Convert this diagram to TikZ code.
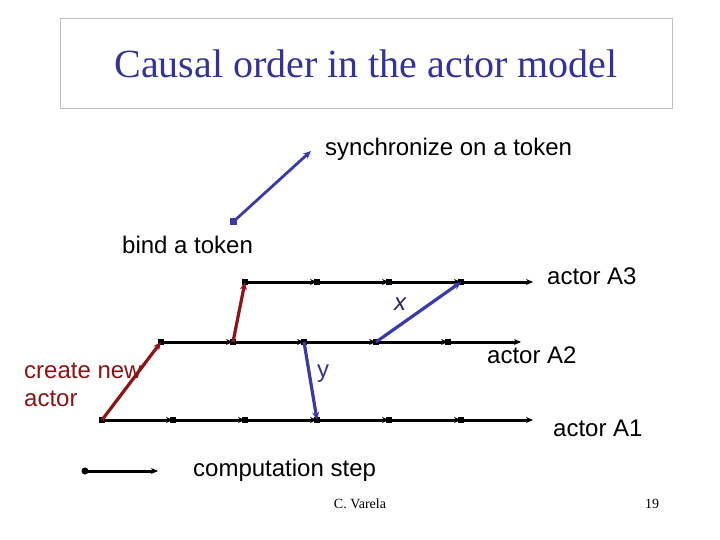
\documentclass[tikz,border=0pt]{standalone}
\usepackage{fontspec}
\setmainfont{Liberation Serif}
\setsansfont{Liberation Sans}
\usetikzlibrary{arrows.meta}
\definecolor{msgblue}{RGB}{58,58,170}
\definecolor{msgred}{RGB}{140,20,20}
\definecolor{titleblue}{RGB}{51,51,153}
\tikzset{
  stepline/.style={line width=3pt,black,-{Stealth[length=7pt,width=6pt]}},
  bluemsg/.style={line width=3.2pt,msgblue,-{Stealth[length=8pt,width=7pt]}},
  redmsg/.style={line width=3.2pt,msgred,-{Stealth[length=8pt,width=7pt]}},
  dotmark/.style={fill=black,inner sep=0pt,minimum size=6pt,rectangle},
  lbl/.style={font=\sffamily\fontsize{24}{28}\selectfont,inner sep=0pt,anchor=base west},
}
\begin{document}
\begin{tikzpicture}[x=1pt,y=-1pt]
\useasboundingbox (0,0) rectangle (720,540);
\fill[white] (0,0) rectangle (720,540);
% title
\node[draw=black!25,line width=0.8pt,minimum width=612pt,minimum height=90pt,anchor=north west,inner sep=0pt] (titlebox) at (60,18) {};
\node[font=\fontsize{40}{44}\selectfont,text=titleblue,anchor=base,inner sep=0pt] (title) at (366,78) {Causal order in the actor model};
% ticks
\foreach \n/\x in {1/245,2/317,3/389,4/461,5/533} \coordinate (c\n) at (\x,282);
\foreach \n/\x in {1/161,2/233,3/304,4/376,5/448,6/521} \coordinate (b\n) at (\x,342);
\foreach \n/\x in {1/102,2/173,3/245,4/317,5/389,6/461,7/533} \coordinate (a\n) at (\x,420);
% actor lines
\foreach \i/\j in {1/2,2/3,3/4,4/5} {\draw[stepline] (c\i) -- (c\j); \node[dotmark] at (c\i) {};}
\foreach \i/\j in {1/2,2/3,3/4,4/5,5/6} {\draw[stepline] (b\i) -- (b\j); \node[dotmark] at (b\i) {};}
\foreach \i/\j in {1/2,2/3,3/4,4/5,5/6,6/7} {\draw[stepline] (a\i) -- (a\j); \node[dotmark] at (a\i) {};}
% messages
\draw[redmsg] (a1) -- (b1);
\draw[redmsg] (b2) -- (c1);
\draw[bluemsg] (b3) -- (a4);
\draw[bluemsg] (b4) -- (c4);
% synchronize legend arrow
\coordinate (s0) at (233,222);
\coordinate (s1) at (311,151);
\draw[bluemsg,line width=2.8pt] (s0) -- (s1);
\node[fill=msgblue,inner sep=0pt,minimum size=7pt] (sdot) at (s0) {};
% computation step legend
\coordinate (l0) at (85,471);
\coordinate (l1) at (158,471);
\draw[stepline] (l0) -- (l1);
\node[dotmark,circle,minimum size=7pt] (ldot) at (l0) {};
% labels
\node[lbl] (sync) at (325,156) {synchronize on a token};
\node[lbl] (bind) at (122,254) {bind a token};
\node[lbl] (la3) at (547,284) {actor A3};
\node[lbl] (la2) at (487,363) {actor A2};
\node[lbl] (la1) at (553,436) {actor A1};
\node[lbl] (comp) at (193,476) {computation step};
\node[lbl,text=msgred] (cn1) at (24,378) {create new};
\node[lbl,text=msgred] (cn2) at (24,406) {actor};
\node[lbl,text=titleblue!70!black,font=\sffamily\itshape\fontsize{24}{28}\selectfont] (lx) at (394,310) {x};
\node[lbl,text=titleblue] (ly) at (317,377) {y};
\node[font=\fontsize{14}{16}\selectfont,anchor=base,inner sep=0pt] (auth) at (360,508) {C. Varela};
\node[font=\fontsize{14}{16}\selectfont,anchor=base,inner sep=0pt] (pg) at (652,508) {19};
\end{tikzpicture}
\end{document}
